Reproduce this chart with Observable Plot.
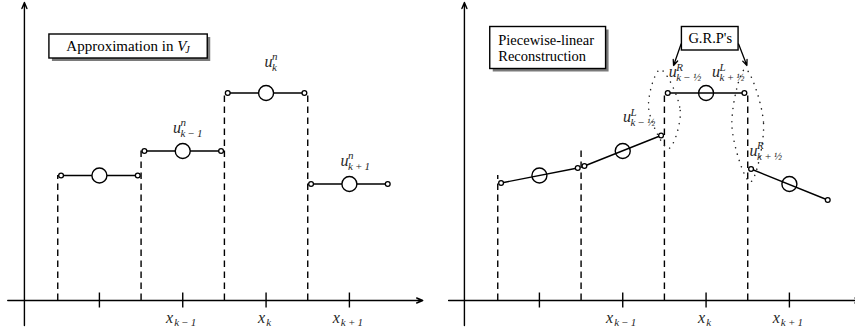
<!DOCTYPE html>
<html><head><meta charset="utf-8">
<script src="https://cdn.jsdelivr.net/npm/d3@7"></script>
<script src="https://cdn.jsdelivr.net/npm/@observablehq/plot@0.6"></script>
<style>
body{margin:0;background:#fff}
#wrap{display:flex;width:855px;height:336px;overflow:hidden}
#wrap svg, #wrap svg text, #wrap svg tspan{font-family:"Liberation Serif","Times New Roman",serif !important}
</style>
</head><body><div id="wrap"></div>
<script>
// ---------------- data (cell units on x, solution units on y) ----------------
const cellCenters  = [1, 2, 3, 4];
const cellEdges    = [0.5, 1.5, 2.5, 3.5, 4.5];
const cellAverages = [2.50, 2.99, 4.15, 2.33];      // u^n per cell
const reconLeft    = [2.35, 2.69, 4.15, 2.63];      // reconstruction at left end of cell
const reconRight   = [2.65, 3.30, 4.15, 2.01];      // reconstruction at right end of cell
const tickSubs     = ["", "k\u2009\u2212\u20091", "k", "k\u2009+\u20091"];

// labels of the left panel
const avgLabelX   = [1.93, 3.03, 3.94];
const avgLabelY   = [3.36, 4.68, 2.70];
const avgLabelSup = ["n", "n", "n"];
const avgLabelSub = ["k\u2009\u2212\u20091", "k", "k\u2009+\u20091"];

// labels of the right panel
const ifLabelX   = [2.60, 3.12, 2.05, 3.57];
const ifLabelY   = [4.47, 4.47, 3.57, 2.90];
const ifLabelSup = ["R", "L", "L", "R"];
const ifLabelSub = ["k\u2009\u2212\u2009\u00bd", "k\u2009+\u2009\u00bd", "k\u2009\u2212\u2009\u00bd", "k\u2009+\u2009\u00bd"];

// dotted ovals around the two interfaces (extreme points)
const ovalLeftX  = [2.45, 2.69, 2.55, 2.31];
const ovalLeftY  = [4.62, 3.80, 3.04, 3.86];
const ovalRightX = [3.47, 3.69, 3.53, 3.31];
const ovalRightY = [4.63, 3.54, 2.37, 3.50];

// annotation boxes
const boxApprox = {x1: 0.40, x2: 2.30, y1: 4.84, y2: 5.32};
const boxPiece  = {x1: 0.41, x2: 1.80, y1: 4.63, y2: 5.47};
const boxGRP    = {x1: 2.71, x2: 3.39, y1: 5.00, y2: 5.47};
const grpArrows = [
  {x1: 2.70, y1: 5.13, x2: 2.61, y2: 4.70},
  {x1: 3.39, y1: 5.13, x2: 3.49, y2: 4.70}
];

// ---------------- layout ----------------
const PX = 83.33, XMIN = -0.187;
const YDOM = [-0.72, 6];
const AXIS_X = 0.1;
const INSET = 0.04;
const SERIF = "Liberation Serif";
const MATH = "#262626";
const SW = 1.4;

const ctx = document.createElement("canvas").getContext("2d");
function tw(str, size, italic) {
  ctx.font = `${italic ? "italic " : ""}${size}px "Liberation Serif"`;
  return ctx.measureText(str).width;
}

// ---------------- derived rows ----------------
const cells = cellCenters.map((c, i) => ({
  i, c, avg: cellAverages[i], left: cellEdges[i], right: cellEdges[i + 1]
}));
const interfaces = cellEdges.slice(0, 4).map((e, i) => ({
  x: e, top: Math.max(cellAverages[i], i > 0 ? cellAverages[i - 1] : -Infinity)
}));
const flatSegs = cells.flatMap(d => [
  {cell: d.i, x: d.left + INSET, y: d.avg},
  {cell: d.i, x: d.right - INSET, y: d.avg}
]);
const slopeSegs = cells.flatMap(d => [
  {cell: d.i, x: d.left + INSET, y: reconLeft[d.i]},
  {cell: d.i, x: d.right - INSET, y: reconRight[d.i]}
]);
const ovals = [
  ...ovalLeftX.map((x, i) => ({id: "a", x, y: ovalLeftY[i]})),
  ...ovalRightX.map((x, i) => ({id: "b", x, y: ovalRightY[i]}))
];
const avgLabels = avgLabelX.map((x, i) => ({x, y: avgLabelY[i], base: "u", sup: avgLabelSup[i], sub: avgLabelSub[i]}));
const ifLabels = ifLabelX.map((x, i) => ({x, y: ifLabelY[i], base: "u", sup: ifLabelSup[i], sub: ifLabelSub[i]}));

function mathLabel(rows) {
  return [
    Plot.text(rows, {x: "x", y: "y", text: "base", fontFamily: SERIF, fontStyle: "italic", fontSize: 16,
      textAnchor: "middle", lineAnchor: "bottom", fill: MATH}),
    Plot.text(rows, {x: "x", y: "y", text: "sup", fontFamily: SERIF, fontStyle: "italic", fontSize: 11,
      textAnchor: "start", lineAnchor: "bottom", fill: MATH, dx: 3.5, dy: -6.5}),
    Plot.text(rows, {x: "x", y: "y", text: "sub", fontFamily: SERIF, fontStyle: "italic", fontSize: 11,
      textAnchor: "start", lineAnchor: "bottom", fill: MATH, dx: 3.5, dy: 4})
  ];
}

function tickLabels() {
  const rows = cellCenters.map((c, i) => {
    const sw = tickSubs[i] ? tw(tickSubs[i], 11, true) : 0;
    return {x: c - (sw / 2 + 2) / PX, y: -0.44, base: tickSubs[i] ? "x" : "", sub: tickSubs[i]};
  }).filter(d => d.base);
  return [
    Plot.text(rows, {x: "x", y: "y", text: "base", fontFamily: SERIF, fontStyle: "italic", fontSize: 16,
      textAnchor: "middle", lineAnchor: "bottom", fill: MATH}),
    Plot.text(rows, {x: "x", y: "y", text: "sub", fontFamily: SERIF, fontStyle: "italic", fontSize: 11,
      textAnchor: "start", lineAnchor: "bottom", fill: MATH, dx: 4.5, dy: 3})
  ];
}

function axesMarks(xStart, xEnd) {
  return [
    Plot.arrow([{x1: xStart, x2: xEnd, y: 0}], {x1: "x1", x2: "x2", y1: "y", y2: "y",
      stroke: "black", strokeWidth: SW, headLength: 7, headAngle: 45}),
    Plot.arrow([{x: AXIS_X, y1: -0.5, y2: 5.96}], {x1: "x", x2: "x", y1: "y1", y2: "y2",
      stroke: "black", strokeWidth: SW, headLength: 7, headAngle: 45}),
    Plot.ruleX(cellCenters, {x: d => d, y1: -0.15, y2: 0.15, stroke: "black", strokeWidth: SW}),
    Plot.ruleX(interfaces, {x: "x", y1: 0, y2: "top", stroke: "black", strokeWidth: SW, strokeDasharray: "6.5,4.5"})
  ];
}

function boxMarks(box, shadow) {
  const m = [];
  if (shadow) m.push(Plot.rect([box], {x1: "x1", x2: "x2", y1: "y1", y2: "y2", fill: "#7a7a7a", dx: 3, dy: 3}));
  m.push(Plot.rect([box], {x1: "x1", x2: "x2", y1: "y1", y2: "y2", fill: "white", stroke: "black", strokeWidth: 1.4}));
  return m;
}

const baseStyle = {background: "white", fontFamily: SERIF};

// ---------------- left panel ----------------
const wL = 440;
const fs = 15;
const w1 = tw("Approximation in ", fs, false), wV = tw("V", fs, true), wJ = tw("J", 10, true);
const tot = w1 + wV + wJ;
const cx = (boxApprox.x1 + boxApprox.x2) / 2, cy = (boxApprox.y1 + boxApprox.y2) / 2;
const left = Plot.plot({
  width: wL, height: 336, margin: 0,
  x: {domain: [XMIN, XMIN + wL / PX], axis: null},
  y: {domain: YDOM, axis: null},
  style: baseStyle,
  marks: [
    ...axesMarks(-0.10, 4.88),
    Plot.line(flatSegs, {x: "x", y: "y", z: "cell", stroke: "black", strokeWidth: SW}),
    Plot.dot(cells, {x: "c", y: "avg", r: 7.5, fill: "white", stroke: "black", strokeWidth: 1.4}),
    Plot.dot(flatSegs, {x: "x", y: "y", r: 2.4, fill: "white", stroke: "black", strokeWidth: 1.3}),
    ...mathLabel(avgLabels),
    ...tickLabels(),
    ...boxMarks(boxApprox, true),
    Plot.text([{x: cx, y: cy}], {x: "x", y: "y", text: () => "Approximation in", fontFamily: SERIF, fontSize: fs,
      textAnchor: "start", fill: "black", dx: -tot / 2}),
    Plot.text([{x: cx, y: cy}], {x: "x", y: "y", text: () => "V", fontFamily: SERIF, fontStyle: "italic", fontSize: fs,
      textAnchor: "start", fill: "black", dx: -tot / 2 + w1}),
    Plot.text([{x: cx, y: cy}], {x: "x", y: "y", text: () => "J", fontFamily: SERIF, fontStyle: "italic", fontSize: 10,
      textAnchor: "start", fill: "black", dx: -tot / 2 + w1 + wV - 1, dy: 3.5})
  ]
});

// ---------------- right panel ----------------
const wR = 415;
const right = Plot.plot({
  width: wR, height: 336, margin: 0,
  x: {domain: [XMIN, XMIN + wR / PX], axis: null},
  y: {domain: YDOM, axis: null},
  style: baseStyle,
  marks: [
    ...axesMarks(-0.09, 4.86),
    Plot.line(ovals, {x: "x", y: "y", z: "id", curve: "catmull-rom-closed", stroke: "#222",
      strokeWidth: 1.5, strokeDasharray: "0.1,6.5", strokeLinecap: "round"}),
    Plot.line(slopeSegs, {x: "x", y: "y", z: "cell", stroke: "black", strokeWidth: SW}),
    Plot.dot(cells, {x: "c", y: "avg", r: 7.5, fill: "none", stroke: "black", strokeWidth: 1.4}),
    Plot.dot(slopeSegs, {x: "x", y: "y", r: 2.4, fill: "white", stroke: "black", strokeWidth: 1.3}),
    ...mathLabel(ifLabels),
    ...tickLabels(),
    ...boxMarks(boxPiece, true),
    Plot.text([{x: boxPiece.x1, y: (boxPiece.y1 + boxPiece.y2) / 2}], {x: "x", y: "y",
      text: () => "Piecewise-linear\nReconstruction", fontFamily: SERIF, fontSize: 14.5, lineHeight: 1.05,
      textAnchor: "start", fill: "black", dx: 8}),
    ...boxMarks(boxGRP, false),
    Plot.text([{x: (boxGRP.x1 + boxGRP.x2) / 2, y: (boxGRP.y1 + boxGRP.y2) / 2}], {x: "x", y: "y",
      text: () => "G.R.P's", fontFamily: SERIF, fontSize: 14.5, textAnchor: "middle", fill: "black"}),
    Plot.arrow(grpArrows, {x1: "x1", y1: "y1", x2: "x2", y2: "y2", stroke: "black", strokeWidth: 1.3,
      headLength: 7, headAngle: 45})
  ]
});

document.getElementById("wrap").append(left, right);
</script>
</body></html>
